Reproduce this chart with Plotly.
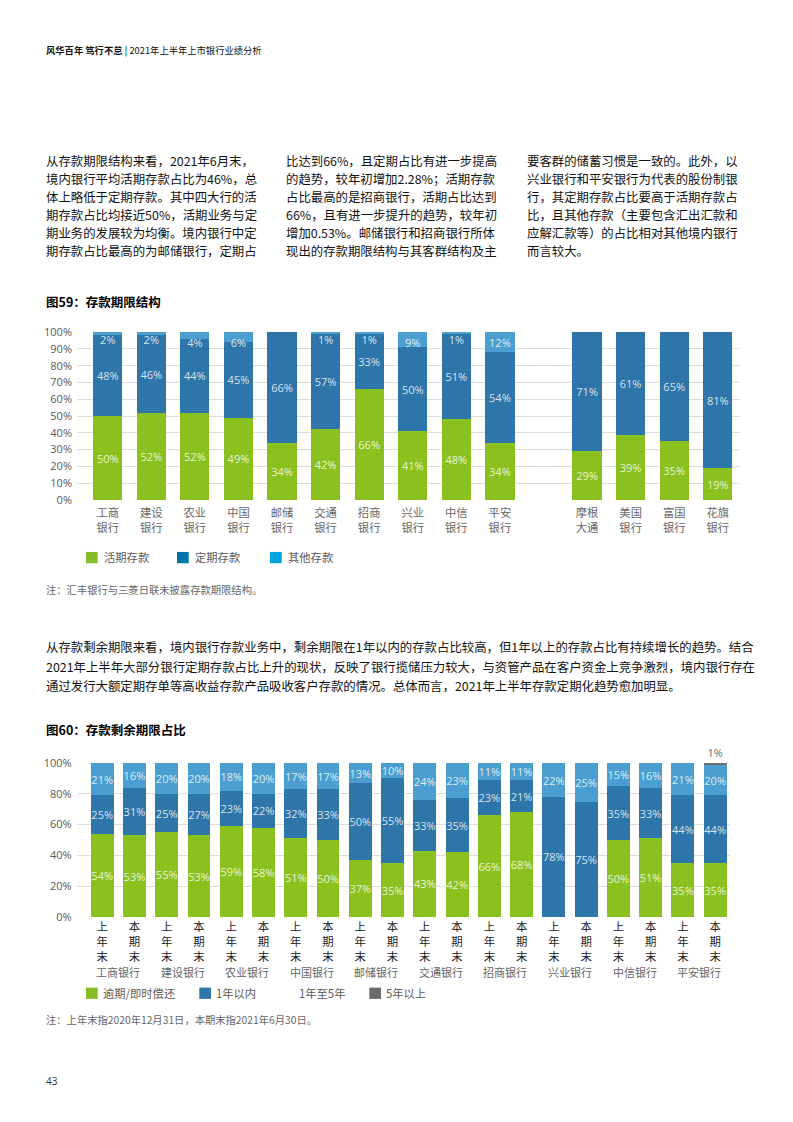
import plotly.graph_objects as go

W, H = 793, 1122

# ---------------- data: chart 59 ----------------
banks1 = ["工商银行", "建设银行", "农业银行", "中国银行", "邮储银行", "交通银行", "招商银行",
          "兴业银行", "中信银行", "平安银行", " ", "摩根大通", "美国银行", "富国银行", "花旗银行"]
demand1 = [50, 52, 52, 49, 34, 42, 66, 41, 48, 34, None, 29, 39, 35, 19]
time1 = [48, 46, 44, 45, 66, 57, 33, 50, 51, 54, None, 71, 61, 65, 81]
other1 = [2, 2, 4, 6, 0, 1, 1, 9, 1, 12, None, 0, 0, 0, 0]
series1_names = ["活期存款", "定期存款", "其他存款"]

# ---------------- data: chart 60 ----------------
banks2 = ["工商银行", "建设银行", "农业银行", "中国银行", "邮储银行",
          "交通银行", "招商银行", "兴业银行", "中信银行", "平安银行"]
periods2 = ["上年末", "本期末"]
overdue2 = [54, 53, 55, 53, 59, 58, 51, 50, 37, 35, 43, 42, 66, 68, 0, 0, 50, 51, 35, 35]
within1y2 = [25, 31, 25, 27, 23, 22, 32, 33, 50, 55, 33, 35, 23, 21, 78, 75, 35, 33, 44, 44]
y1to5_2 = [21, 16, 20, 20, 18, 20, 17, 17, 13, 10, 24, 23, 11, 11, 22, 25, 15, 16, 21, 20]
over5y2 = [0.4, 0.6, 0.5, 0.3, 0.3, 0.3, 0.3, 0.3, 0, 0, 0, 0.5, 0.4, 0.4, 0, 0, 0.4, 0.4, 0.5, 1]
series2_names = ["逾期/即时偿还", "1年以内", "1年至5年", "5年以上"]

# ---------------- text ----------------
header_bold = "风华百年 笃行不怠"
header_rest = "2021年上半年上市银行业绩分析"
col1 = ["从存款期限结构来看，2021年6月末，",
        "境内银行平均活期存款占比为46%，总",
        "体上略低于定期存款。其中四大行的活",
        "期存款占比均接近50%，活期业务与定",
        "期业务的发展较为均衡。境内银行中定",
        "期存款占比最高的为邮储银行，定期占"]
col2 = ["比达到66%，且定期占比有进一步提高",
        "的趋势，较年初增加2.28%；活期存款",
        "占比最高的是招商银行，活期占比达到",
        "66%，且有进一步提升的趋势，较年初",
        "增加0.53%。邮储银行和招商银行所体",
        "现出的存款期限结构与其客群结构及主"]
col3 = ["要客群的储蓄习惯是一致的。此外，以",
        "兴业银行和平安银行为代表的股份制银",
        "行，其定期存款占比要高于活期存款占",
        "比，且其他存款（主要包含汇出汇款和",
        "应解汇款等）的占比相对其他境内银行",
        "而言较大。"]
para2 = ["从存款剩余期限来看，境内银行存款业务中，剩余期限在1年以内的存款占比较高，但1年以上的存款占比有持续增长的趋势。结合",
         "2021年上半年大部分银行定期存款占比上升的现状，反映了银行揽储压力较大，与资管产品在客户资金上竞争激烈，境内银行存在",
         "通过发行大额定期存单等高收益存款产品吸收客户存款的情况。总体而言，2021年上半年存款定期化趋势愈加明显。"]
title1 = "图59：存款期限结构"
title2 = "图60：存款剩余期限占比"
note1 = "注：汇丰银行与三菱日联未披露存款期限结构。"
note2 = "注：上年末指2020年12月31日，本期末指2021年6月30日。"
page_no = "43"

# ---------------- style ----------------
GREEN = "#8BC11F"
BLUE = "#2E75AA"
LBLUE = "#4A9FD0"
GRAY = "#6E6E6E"
LEG1_COLORS = ["#86BC25", "#0076A8", "#00A3E0"]
LEG2_COLORS = ["#86BC25", "#2E75AA", None, "#6B6B6B"]
CJK = "Noto Sans CJK SC"
LAT = "Open Sans, Noto Sans CJK SC"
LBL = "rgba(255,255,255,0.82)"


def fx(x):
    return (x - 1.5) / W


def fxd(x):
    return x / W


def fy(y):
    yc = (y - 7.63) / 0.9874
    return 1 - yc / H


def lbl(vals):
    return [("" if (v is None or v < 1) else f"{v:g}%") for v in vals]


fig = go.Figure()

# chart 59 bars (top series label anchored at the top, like the source)
for vals, col, nm, anc in zip([demand1, time1, other1], [GREEN, BLUE, LBLUE], series1_names,
                              ["middle", "middle", "end"]):
    fig.add_trace(go.Bar(
        x=banks1, y=vals, name=nm, marker_color=col, marker_line_width=0,
        width=0.67, text=lbl(vals), textposition="inside", insidetextanchor=anc,
        textangle=0, textfont=dict(family=LAT, size=11, color=LBL),
        xaxis="x", yaxis="y", showlegend=False, hoverinfo="skip"))

# chart 60 bars
cats2 = [b + p for b in banks2 for p in periods2]
tick2 = ["<br>".join(list(p)) for b in banks2 for p in periods2]
for vals, col, nm in zip([overdue2, within1y2, y1to5_2], [GREEN, BLUE, LBLUE], series2_names[:3]):
    fig.add_trace(go.Bar(
        x=cats2, y=vals, name=nm, marker_color=col, marker_line_width=0,
        width=0.71, text=lbl(vals), textposition="inside", insidetextanchor="middle",
        textangle=0, textfont=dict(family=LAT, size=11, color=LBL),
        xaxis="x2", yaxis="y2", showlegend=False, hoverinfo="skip"))
fig.add_trace(go.Bar(
    x=cats2, y=over5y2, name=series2_names[3], marker_color=GRAY, marker_line_width=0,
    width=0.71, text=lbl(over5y2), textposition="outside", textangle=0,
    textfont=dict(family=LAT, size=11, color="#666666"), cliponaxis=False,
    xaxis="x2", yaxis="y2", showlegend=False, hoverinfo="skip"))

axis_font = dict(family=LAT, size=11, color="#595959")

fig.update_layout(
    width=W, height=H, margin=dict(l=0, r=0, t=0, b=0),
    paper_bgcolor="white", plot_bgcolor="white",
    barmode="stack", uniformtext=dict(minsize=11, mode="show"),
    xaxis=dict(domain=[fxd(77), fxd(740)], range=[-0.705, 14.51], type="category",
               anchor="y", tickvals=banks1,
               ticktext=[(b[:2] + "<br>" + b[2:]) if b.strip() else "" for b in banks1],
               tickfont=dict(family=LAT, size=11.3, color="#666666"), ticklabelstandoff=5,
               showgrid=False, zeroline=False, showline=False, ticks="", fixedrange=True),
    yaxis=dict(domain=[fy(500), fy(332)], range=[0, 100], dtick=10, ticksuffix="%",
               anchor="x", tickfont=axis_font, showgrid=True, gridcolor="#DCDCDC", gridwidth=1.2,
               zeroline=False, showline=False, ticks="", ticklabelstandoff=4),
    xaxis2=dict(domain=[fxd(76.7), fxd(730)], range=[-0.79, 19.46], type="category",
                anchor="y2", tickvals=cats2, ticktext=tick2,
                tickfont=dict(family=CJK, size=11.4, color="#222222"), ticklabelstandoff=2,
                showgrid=False, zeroline=False, showline=False, ticks="", fixedrange=True),
    yaxis2=dict(domain=[fy(917.3), fy(763.3)], range=[0, 100], dtick=20, ticksuffix="%",
                anchor="x2", tickfont=axis_font, showgrid=True, gridcolor="#DCDCDC", gridwidth=1.2,
                zeroline=False, showline=False, ticks="", ticklabelstandoff=4),
)

ann = []
shapes = []


def text(x, y, s, size=12.5, color="#111111", family=CJK, xanchor="left"):
    ann.append(dict(x=fx(x), y=fy(y), xref="paper", yref="paper",
                    text=s, showarrow=False, xanchor=xanchor, yanchor="middle",
                    font=dict(family=family, size=size, color=color), align="left"))


# header
text(45, 50, f"<b>{header_bold}</b> <span style='color:#0076A8'><b>|</b></span> {header_rest}",
     size=9.3, color="#111111")

# paragraph 1 (three columns)
line_y = [160.7, 179, 196.7, 215, 232.7, 250.5]
for cx, col in zip([45, 285, 526], [col1, col2, col3]):
    for yy, s in zip(line_y, col):
        text(cx, yy, s, size=12.4)

# titles
text(45, 301, f"<b>{title1}</b>", size=12.5, color="#000000")
text(45, 730, f"<b>{title2}</b>", size=12.5, color="#000000")

# legend 1
leg1_x = [86, 177, 270]
for lx, c, nm in zip(leg1_x, LEG1_COLORS, series1_names):
    shapes.append(dict(type="rect", xref="paper", yref="paper", x0=fxd(lx), x1=fxd(lx + 11.7),
                       y0=fy(563.3), y1=fy(552), fillcolor=c, line_width=0))
    text(lx + 17, 557.5, nm, size=11.3, color="#595959")

# note 1
text(45, 590, note1, size=10.3, color="#666666")

# paragraph 2
for yy, s in zip([647.5, 667, 686.5], para2):
    text(45, yy, s, size=12.4)

# chart 60 group names
for i, b in enumerate(banks2):
    ann.append(dict(x=2 * i + 0.5, y=fy(972), xref="x2", yref="paper", text=b,
                    showarrow=False, xanchor="center", yanchor="middle",
                    font=dict(family=CJK, size=11, color="#666666")))

# legend 2
leg2_x = [86, 199.3, 282, 369.3]
for lx, c, nm in zip(leg2_x, LEG2_COLORS, series2_names):
    if c is not None:
        shapes.append(dict(type="rect", xref="paper", yref="paper", x0=fxd(lx), x1=fxd(lx + 11.7),
                           y0=fy(999.3), y1=fy(988), fillcolor=c, line_width=0))
    text(lx + 16.5, 993.7, nm, size=11.3, color="#595959")

# note 2
text(45, 1019.5, note2, size=10.3, color="#666666")

# page number
text(45, 1081, page_no, size=10, color="#333333", family=LAT)

fig.update_layout(annotations=ann, shapes=shapes)
fig.write_html("out.html", config={"displayModeBar": False},
               post_script="document.body.style.margin='0';document.body.style.overflow='hidden';")
